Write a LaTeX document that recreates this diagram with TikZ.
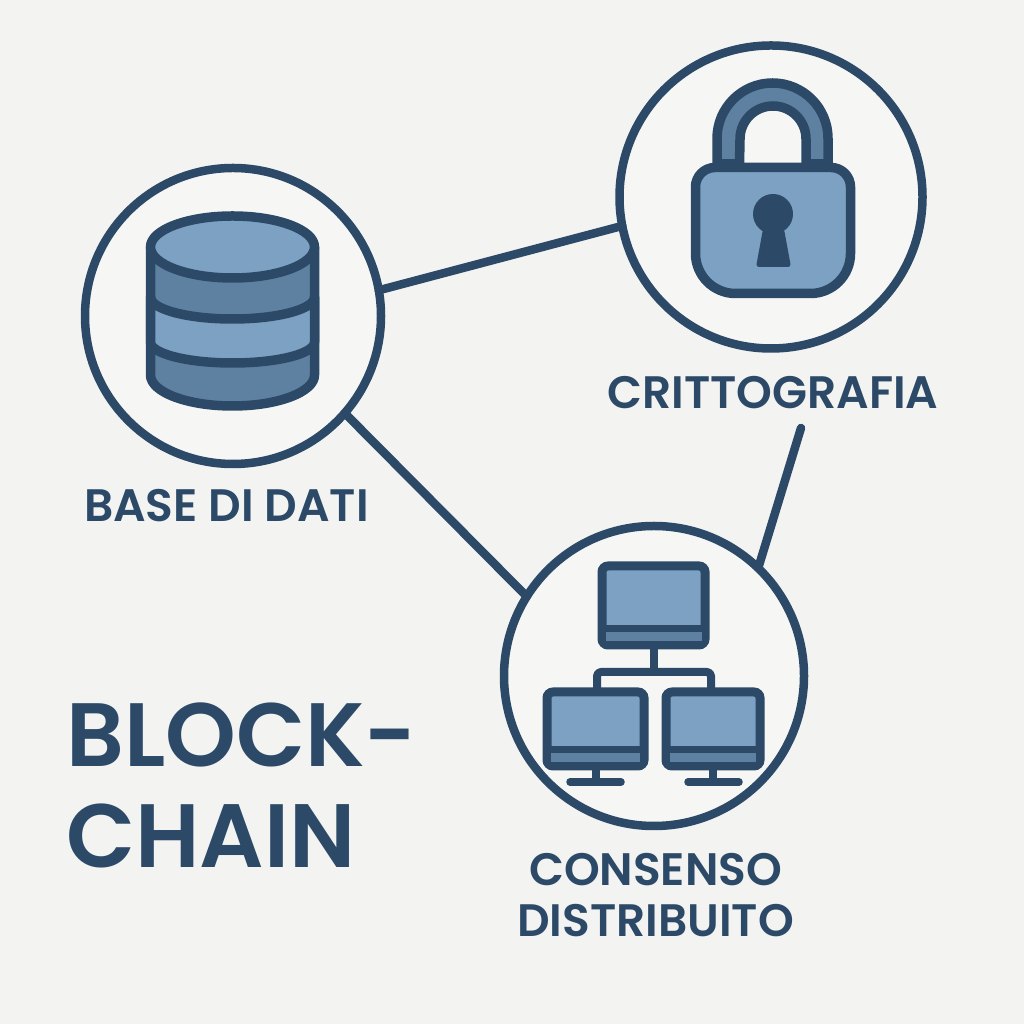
\documentclass[tikz,border=0pt]{standalone}
\usepackage{fontspec}
\setmainfont{Poppins}
\newfontfamily\labelfont{Poppins SemiBold}
\newfontfamily\titlefont{Poppins SemiBold}
\usepackage{tikz}
\usetikzlibrary{positioning}
\definecolor{inkblue}{HTML}{2C4A68}
\definecolor{lightblue}{HTML}{7CA1C2}
\definecolor{midblue}{HTML}{5F81A1}
\definecolor{paper}{HTML}{F3F3F1}
\definecolor{disc}{HTML}{F6F6F5}

\begin{document}
\begin{tikzpicture}[x=1pt,y=1pt,
                    link/.style={draw=inkblue, line width=8.5pt, line cap=round},
                    bigcircle/.style={circle, draw=inkblue, fill=disc, line width=8.5pt, inner sep=0pt, outer sep=0pt},
                    icon/.style={draw=inkblue, line width=9.5pt, line join=round},
                    monitor/.style={rectangle, rounded corners=6pt, draw=inkblue, fill=lightblue, line width=9pt, inner sep=0pt, outer sep=0pt},
                    label/.style={text=inkblue, font=\labelfont\fontsize{45.5}{51}\selectfont, align=center, inner sep=0pt},
                    headline/.style={text=inkblue, font=\titlefont\fontsize{90}{101}\selectfont, align=left, inner sep=0pt}]
  \useasboundingbox (0,0) rectangle (1024,1024);
  \fill[paper] (0,0) rectangle (1024,1024);

  \node (Base) [bigcircle, minimum size=296pt] at (233,708) {};
  \node (Lock) [bigcircle, minimum size=303pt] at (771,827) {};
  \node (Net) [bigcircle, minimum size=300pt] at (654,348) {};
  \coordinate (LockEnd) at (801,596);

  \draw[link] (Base.10) -- (Lock.191.6);
  \draw[link] (Base.-41.5) -- (Net.148);
  \draw[link] (LockEnd) -- (Net.46.6);

  \draw[icon, fill=midblue] (150.5,777) -- (150.5,649) arc[start angle=180, end angle=360, x radius=82pt, y radius=31pt] -- (314.5,777) -- cycle;
  \draw[icon, fill=lightblue] (150.5,727) arc[start angle=180, end angle=360, x radius=82pt, y radius=22pt] -- (314.5,682) arc[start angle=0, end angle=-180, x radius=82pt, y radius=21pt] -- cycle;
  \draw[icon, fill=lightblue] (232.5,777) ellipse[x radius=82pt, y radius=31pt];

  \draw[icon, fill=midblue] (717,860) -- (717,885.5) arc[start angle=180, end angle=0, radius=55.5pt] -- (828,860) -- (806,860) -- (806,885) arc[start angle=0, end angle=180, radius=33pt] -- (739.5,860) -- cycle;
  \draw[icon, fill=lightblue] (715,856.5) -- (831,856.5) arc[start angle=90, end angle=0, radius=19.5pt] -- (850.5,770.5) arc[start angle=0, end angle=-90, radius=40pt] -- (735.5,730.5) arc[start angle=270, end angle=180, radius=40pt] -- (695.5,837) arc[start angle=180, end angle=90, radius=19.5pt] -- cycle;
  \fill[inkblue] (773,810) circle[radius=20pt];
  \fill[inkblue, rounded corners=3pt] (763,795) -- (784,795) -- (791,757) -- (756,757) -- cycle;

  \node (TopPc) [monitor, minimum width=103pt, minimum height=79pt] at (653.5,418.5) {};
  \node (LeftPc) [monitor, minimum width=97pt, minimum height=74pt] at (595.5,295) {};
  \node (RightPc) [monitor, minimum width=94pt, minimum height=74pt] at (713,295) {};
  \coordinate (Hub) at (653.5,352);

  \draw[icon, line width=8pt, rounded corners=4pt] (LeftPc.north -| 597,0) -- (597,352) -- (711,352) -- (RightPc.north -| 711,0);
  \draw[icon, line width=8pt] (TopPc.south) -- (Hub);
  \draw[icon, line width=8pt] (LeftPc.south) -- ++(0,-12);
  \draw[icon, line width=8pt] (RightPc.south) -- ++(0,-12);
  \draw[inkblue, line width=7.5pt, line cap=round] (570,242) -- (621,242);
  \draw[inkblue, line width=7.5pt, line cap=round] (688,242) -- (739,242);

  \fill[inkblue] (602,392) rectangle (705,399);
  \fill[midblue] (606,383) rectangle (702,392);
  \fill[inkblue] (547,271) rectangle (644,278);
  \fill[midblue] (551,262) rectangle (640,271);
  \fill[inkblue] (666,271) rectangle (760,278);
  \fill[midblue] (670,262) rectangle (756,271);

  \node (BaseText) [label, anchor=base] at (226.5,502) {BASE DI DATI};
  \node (LockText) [label, anchor=base] at (773,615) {CRITTOGRAFIA};
  \node (NetText) [label] at (655.5,129) {CONSENSO\\DISTRIBUITO};
  \node (Title) [headline, anchor=west] at (66,238.5) {BLOCK-\\CHAIN};
\end{tikzpicture}
\end{document}
